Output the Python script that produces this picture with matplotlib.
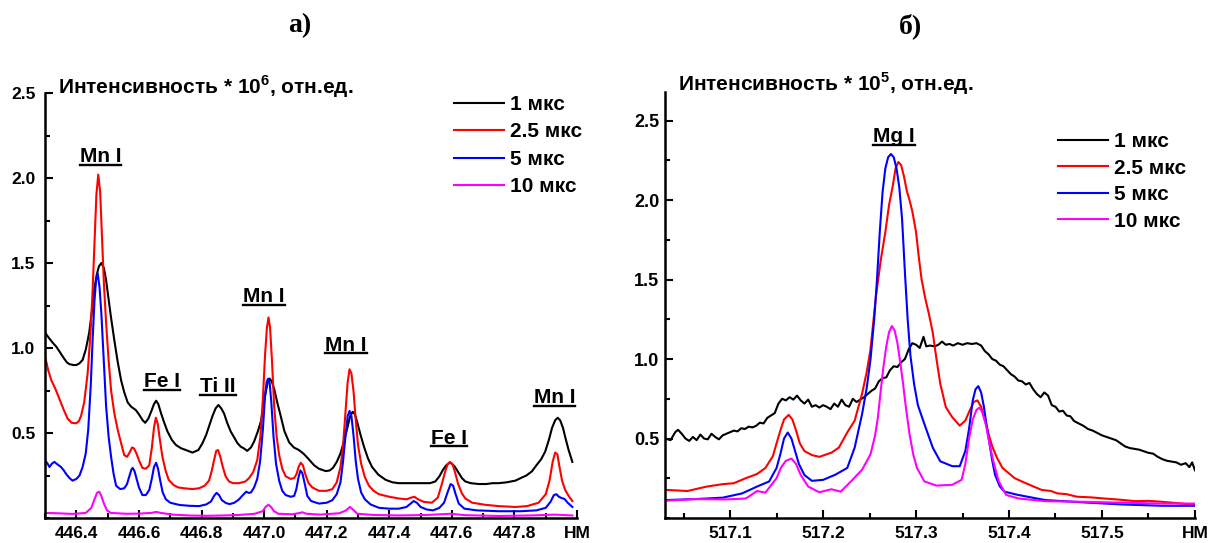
import numpy as np
import matplotlib
matplotlib.use("Agg")
import matplotlib.pyplot as plt
from matplotlib.lines import Line2D
from matplotlib.ticker import MultipleLocator

# =====================
# Fonts
# =====================

plt.rcParams["font.family"] = ["Liberation Sans", "DejaVu Sans"]
plt.rcParams["font.weight"] = "bold"
plt.rcParams["mathtext.fontset"] = "custom"
plt.rcParams["mathtext.rm"] = "Liberation Sans:bold"
plt.rcParams["mathtext.bf"] = "Liberation Sans:bold"

# =====================
# Data: panel a) 446.3 - 448.0 nm
# =====================

a_x_1 = [446.300, 446.312, 446.325, 446.335, 446.346, 446.360, 446.370, 446.378, 446.390, 446.400,
         446.410, 446.420, 446.430, 446.441, 446.450, 446.457, 446.465, 446.472, 446.480, 446.488,
         446.495, 446.502, 446.510, 446.521, 446.532, 446.543, 446.553, 446.564, 446.575, 446.590,
         446.600, 446.612, 446.620, 446.630, 446.640, 446.648, 446.655, 446.662, 446.670, 446.680,
         446.691, 446.705, 446.718, 446.735, 446.750, 446.771, 446.790, 446.803, 446.815, 446.825,
         446.835, 446.845, 446.854, 446.863, 446.872, 446.882, 446.893, 446.904, 446.915, 446.925,
         446.935, 446.946, 446.958, 446.968, 446.980, 446.990, 446.998, 447.005, 447.012, 447.018,
         447.025, 447.032, 447.042, 447.053, 447.065, 447.080, 447.095, 447.111, 447.125, 447.133,
         447.143, 447.160, 447.175, 447.197, 447.210, 447.220, 447.232, 447.244, 447.255, 447.266,
         447.275, 447.283, 447.290, 447.298, 447.308, 447.319, 447.332, 447.345, 447.365, 447.388,
         447.410, 447.430, 447.455, 447.483, 447.510, 447.530, 447.547, 447.560, 447.572, 447.582,
         447.592, 447.600, 447.610, 447.620, 447.632, 447.643, 447.660, 447.686, 447.710, 447.730,
         447.750, 447.775, 447.803, 447.820, 447.838, 447.856, 447.870, 447.885, 447.898, 447.910,
         447.920, 447.930, 447.938, 447.946, 447.955, 447.963, 447.973, 447.985]
a_y_1 = [1.09, 1.06, 1.03, 1.01, 0.98, 0.94, 0.915, 0.905, 0.90, 0.90,
         0.91, 0.93, 0.99, 1.09, 1.22, 1.34, 1.43, 1.48, 1.50, 1.47,
         1.40, 1.30, 1.19, 1.05, 0.92, 0.81, 0.74, 0.68, 0.655, 0.635,
         0.61, 0.575, 0.56, 0.585, 0.63, 0.67, 0.69, 0.67, 0.62, 0.565,
         0.51, 0.46, 0.43, 0.41, 0.40, 0.385, 0.40, 0.44, 0.49, 0.545,
         0.60, 0.645, 0.665, 0.645, 0.615, 0.56, 0.51, 0.475, 0.44, 0.42,
         0.41, 0.395, 0.415, 0.45, 0.51, 0.57, 0.66, 0.74, 0.80, 0.82,
         0.80, 0.76, 0.68, 0.60, 0.51, 0.445, 0.415, 0.40, 0.38, 0.365,
         0.345, 0.31, 0.29, 0.276, 0.28, 0.295, 0.33, 0.38, 0.45, 0.53,
         0.60, 0.625, 0.61, 0.56, 0.49, 0.42, 0.35, 0.30, 0.255, 0.225,
         0.21, 0.205, 0.205, 0.205, 0.205, 0.205, 0.215, 0.245, 0.285, 0.31,
         0.325, 0.32, 0.30, 0.27, 0.235, 0.215, 0.205, 0.20, 0.20, 0.205,
         0.205, 0.21, 0.22, 0.235, 0.25, 0.275, 0.31, 0.345, 0.39, 0.46,
         0.53, 0.575, 0.59, 0.575, 0.53, 0.47, 0.40, 0.33]

a_x_25 = [446.300, 446.310, 446.320, 446.333, 446.346, 446.360, 446.372, 446.385, 446.399, 446.408,
          446.415, 446.425, 446.436, 446.445, 446.452, 446.458, 446.464, 446.470, 446.476, 446.482,
          446.488, 446.495, 446.503, 446.511, 446.521, 446.532, 446.543, 446.553, 446.562, 446.570,
          446.578, 446.584, 446.592, 446.600, 446.611, 446.622, 446.633, 446.641, 446.648, 446.654,
          446.660, 446.667, 446.675, 446.685, 446.695, 446.710, 446.725, 446.745, 446.770, 446.792,
          446.810, 446.824, 446.833, 446.840, 446.847, 446.853, 446.860, 446.868, 446.877, 446.888,
          446.900, 446.920, 446.940, 446.952, 446.965, 446.978, 446.988, 446.996, 447.003, 447.009,
          447.014, 447.019, 447.025, 447.032, 447.040, 447.048, 447.058, 447.069, 447.085, 447.096,
          447.104, 447.110, 447.117, 447.124, 447.132, 447.142, 447.154, 447.175, 447.200, 447.218,
          447.232, 447.244, 447.252, 447.260, 447.267, 447.273, 447.279, 447.286, 447.293, 447.300,
          447.310, 447.322, 447.335, 447.350, 447.367, 447.400, 447.430, 447.455, 447.470, 447.480,
          447.492, 447.510, 447.536, 447.555, 447.568, 447.578, 447.586, 447.594, 447.602, 447.610,
          447.620, 447.632, 447.643, 447.665, 447.706, 447.750, 447.803, 447.840, 447.877, 447.900,
          447.912, 447.922, 447.930, 447.937, 447.944, 447.952, 447.962, 447.975, 447.985]
a_y_25 = [0.95, 0.87, 0.81, 0.76, 0.70, 0.635, 0.585, 0.56, 0.557, 0.57,
          0.60, 0.68, 0.85, 1.08, 1.34, 1.62, 1.90, 2.02, 1.92, 1.65,
          1.38, 1.15, 0.93, 0.75, 0.62, 0.52, 0.44, 0.37, 0.36, 0.385,
          0.415, 0.41, 0.38, 0.34, 0.295, 0.29, 0.31, 0.41, 0.53, 0.59,
          0.555, 0.46, 0.36, 0.28, 0.225, 0.195, 0.18, 0.175, 0.17, 0.175,
          0.19, 0.22, 0.28, 0.34, 0.395, 0.40, 0.36, 0.30, 0.245, 0.215,
          0.205, 0.205, 0.215, 0.235, 0.27, 0.34, 0.48, 0.70, 0.96, 1.12,
          1.18, 1.12, 0.93, 0.66, 0.48, 0.37, 0.29, 0.245, 0.23, 0.235,
          0.26, 0.30, 0.325, 0.31, 0.255, 0.205, 0.18, 0.16, 0.16, 0.17,
          0.21, 0.30, 0.42, 0.62, 0.80, 0.875, 0.85, 0.74, 0.57, 0.43,
          0.32, 0.24, 0.19, 0.16, 0.14, 0.125, 0.115, 0.11, 0.12, 0.125,
          0.11, 0.095, 0.09, 0.12, 0.20, 0.27, 0.315, 0.33, 0.315, 0.27,
          0.20, 0.145, 0.115, 0.09, 0.078, 0.07, 0.065, 0.07, 0.09, 0.14,
          0.22, 0.33, 0.385, 0.375, 0.30, 0.22, 0.165, 0.125, 0.10]

a_x_5 = [446.300, 446.308, 446.314, 446.322, 446.330, 446.340, 446.351, 446.360, 446.367, 446.378,
         446.388, 446.400, 446.410, 446.420, 446.430, 446.438, 446.446, 446.452, 446.458, 446.463,
         446.468, 446.474, 446.480, 446.487, 446.495, 446.503, 446.511, 446.519, 446.527, 446.540,
         446.553, 446.562, 446.570, 446.576, 446.580, 446.586, 446.592, 446.600, 446.611, 446.622,
         446.633, 446.641, 446.648, 446.655, 446.661, 446.668, 446.676, 446.686, 446.700, 446.729,
         446.760, 446.792, 446.815, 446.830, 446.840, 446.848, 446.856, 446.865, 446.878, 446.890,
         446.905, 446.920, 446.932, 446.943, 446.950, 446.958, 446.968, 446.978, 446.987, 446.996,
         447.003, 447.008, 447.013, 447.018, 447.023, 447.030, 447.038, 447.048, 447.058, 447.069,
         447.085, 447.096, 447.103, 447.110, 447.116, 447.122, 447.130, 447.138, 447.150, 447.175,
         447.200, 447.218, 447.232, 447.244, 447.252, 447.260, 447.267, 447.273, 447.279, 447.286,
         447.293, 447.300, 447.310, 447.322, 447.340, 447.367, 447.400, 447.430, 447.455, 447.468,
         447.478, 447.488, 447.500, 447.520, 447.540, 447.560, 447.575, 447.586, 447.596, 447.604,
         447.612, 447.622, 447.640, 447.680, 447.750, 447.820, 447.870, 447.900, 447.915, 447.926,
         447.934, 447.942, 447.950, 447.960, 447.970, 447.985]
a_y_5 = [0.34, 0.32, 0.30, 0.32, 0.33, 0.315, 0.30, 0.28, 0.26, 0.235,
         0.22, 0.23, 0.25, 0.30, 0.38, 0.52, 0.78, 1.05, 1.28, 1.40,
         1.44, 1.36, 1.20, 0.95, 0.66, 0.48, 0.36, 0.26, 0.19, 0.17,
         0.175, 0.20, 0.25, 0.285, 0.295, 0.275, 0.235, 0.18, 0.135, 0.135,
         0.165, 0.23, 0.30, 0.325, 0.29, 0.22, 0.15, 0.11, 0.09, 0.077,
         0.072, 0.07, 0.08, 0.097, 0.13, 0.148, 0.135, 0.105, 0.088, 0.082,
         0.09, 0.11, 0.135, 0.155, 0.148, 0.15, 0.18, 0.23, 0.33, 0.52,
         0.72, 0.80, 0.82, 0.79, 0.68, 0.48, 0.32, 0.22, 0.16, 0.135,
         0.125, 0.13, 0.17, 0.24, 0.28, 0.265, 0.20, 0.13, 0.10, 0.085,
         0.09, 0.105, 0.14, 0.21, 0.33, 0.48, 0.60, 0.63, 0.60, 0.48,
         0.33, 0.23, 0.15, 0.11, 0.08, 0.06, 0.055, 0.055, 0.065, 0.085,
         0.10, 0.09, 0.065, 0.05, 0.045, 0.06, 0.09, 0.15, 0.20, 0.19,
         0.14, 0.085, 0.055, 0.045, 0.04, 0.04, 0.045, 0.06, 0.095, 0.135,
         0.14, 0.125, 0.118, 0.112, 0.09, 0.065]

a_x_10 = [446.300, 446.340, 446.388, 446.430, 446.448, 446.458, 446.466, 446.473, 446.480, 446.488,
          446.498, 446.510, 446.560, 446.600, 446.640, 446.655, 446.670, 446.707, 446.760, 446.814,
          446.870, 446.920, 446.970, 446.995, 447.006, 447.014, 447.022, 447.032, 447.045, 447.090,
          447.115, 447.122, 447.135, 447.180, 447.240, 447.262, 447.274, 447.284, 447.298, 447.350,
          447.430, 447.520, 447.595, 447.640, 447.750, 447.850, 447.930, 447.985]
a_y_10 = [0.03, 0.028, 0.024, 0.03, 0.06, 0.11, 0.148, 0.155, 0.13, 0.085,
          0.045, 0.03, 0.025, 0.026, 0.03, 0.036, 0.03, 0.02, 0.015, 0.013,
          0.015, 0.018, 0.025, 0.04, 0.068, 0.078, 0.065, 0.04, 0.025, 0.022,
          0.03, 0.034, 0.025, 0.02, 0.028, 0.045, 0.065, 0.05, 0.025, 0.018,
          0.015, 0.018, 0.025, 0.017, 0.012, 0.015, 0.02, 0.015]

a_lines = ["Mn I", "Fe I", "Ti II", "Mn I", "Mn I", "Fe I", "Mn I"]
a_line_x = [446.477, 446.674, 446.853, 447.000, 447.261, 447.590, 447.928]
a_line_y = [2.094, 0.768, 0.740, 1.268, 0.985, 0.438, 0.674]

# =====================
# Data: panel б) 517.03 - 517.6 nm
# =====================

b_x_1 = [517.030, 517.036, 517.041, 517.044, 517.048, 517.052, 517.056, 517.060, 517.064, 517.068,
         517.072, 517.076, 517.080, 517.084, 517.088, 517.092, 517.096, 517.100, 517.104, 517.108,
         517.112, 517.116, 517.120, 517.124, 517.128, 517.132, 517.136, 517.140, 517.144, 517.148,
         517.152, 517.156, 517.160, 517.164, 517.168, 517.172, 517.176, 517.180, 517.184, 517.188,
         517.192, 517.196, 517.200, 517.204, 517.208, 517.212, 517.216, 517.220, 517.224, 517.228,
         517.232, 517.236, 517.240, 517.244, 517.248, 517.252, 517.256, 517.260, 517.264, 517.268,
         517.272, 517.276, 517.280, 517.284, 517.288, 517.292, 517.296, 517.300, 517.304, 517.308,
         517.311, 517.315, 517.320, 517.324, 517.328, 517.332, 517.336, 517.340, 517.345, 517.350,
         517.355, 517.360, 517.365, 517.370, 517.374, 517.378, 517.382, 517.386, 517.390, 517.394,
         517.398, 517.402, 517.406, 517.410, 517.414, 517.418, 517.422, 517.426, 517.430, 517.434,
         517.438, 517.442, 517.446, 517.450, 517.454, 517.458, 517.462, 517.466, 517.470, 517.475,
         517.480, 517.485, 517.490, 517.495, 517.500, 517.505, 517.510, 517.515, 517.520, 517.525,
         517.530, 517.535, 517.540, 517.545, 517.550, 517.555, 517.560, 517.565, 517.570, 517.575,
         517.580, 517.585, 517.590, 517.594, 517.597, 517.600]
b_y_1 = [0.50, 0.49, 0.54, 0.555, 0.53, 0.50, 0.485, 0.51, 0.49, 0.525,
         0.50, 0.495, 0.53, 0.51, 0.495, 0.52, 0.53, 0.54, 0.55, 0.545,
         0.565, 0.56, 0.575, 0.57, 0.58, 0.60, 0.595, 0.63, 0.645, 0.66,
         0.72, 0.75, 0.74, 0.76, 0.745, 0.77, 0.74, 0.72, 0.745, 0.70,
         0.71, 0.695, 0.71, 0.70, 0.685, 0.72, 0.70, 0.745, 0.71, 0.70,
         0.75, 0.73, 0.745, 0.76, 0.78, 0.80, 0.815, 0.86, 0.88, 0.885,
         0.93, 0.955, 0.95, 0.98, 1.00, 1.06, 1.10, 1.09, 1.07, 1.14,
         1.08, 1.085, 1.08, 1.09, 1.11, 1.09, 1.095, 1.085, 1.10, 1.09,
         1.10, 1.095, 1.10, 1.085, 1.05, 1.03, 1.00, 0.99, 0.965, 0.955,
         0.93, 0.905, 0.89, 0.865, 0.86, 0.84, 0.85, 0.81, 0.78, 0.76,
         0.79, 0.77, 0.71, 0.70, 0.67, 0.675, 0.645, 0.64, 0.61, 0.595,
         0.58, 0.56, 0.55, 0.535, 0.52, 0.51, 0.50, 0.49, 0.47, 0.45,
         0.44, 0.435, 0.43, 0.42, 0.41, 0.405, 0.385, 0.37, 0.36, 0.355,
         0.35, 0.335, 0.345, 0.32, 0.35, 0.30]

b_x_25 = [517.031, 517.054, 517.075, 517.092, 517.104, 517.117, 517.129, 517.138, 517.146, 517.150,
          517.154, 517.158, 517.163, 517.167, 517.171, 517.175, 517.180, 517.188, 517.196, 517.209,
          517.217, 517.226, 517.234, 517.242, 517.247, 517.251, 517.257, 517.262, 517.267, 517.271,
          517.275, 517.278, 517.281, 517.284, 517.287, 517.290, 517.293, 517.296, 517.300, 517.303,
          517.306, 517.310, 517.314, 517.318, 517.322, 517.326, 517.332, 517.339, 517.347, 517.353,
          517.358, 517.362, 517.366, 517.370, 517.374, 517.378, 517.382, 517.387, 517.393, 517.406,
          517.418, 517.435, 517.445, 517.452, 517.462, 517.473, 517.488, 517.502, 517.520, 517.536,
          517.550, 517.565, 517.586, 517.600]
b_y_25 = [0.177, 0.17, 0.198, 0.213, 0.219, 0.251, 0.277, 0.315, 0.389, 0.47,
          0.549, 0.62, 0.649, 0.62, 0.55, 0.47, 0.421, 0.396, 0.385, 0.411,
          0.443, 0.538, 0.613, 0.783, 0.92, 1.06, 1.40, 1.62, 1.80, 1.97,
          2.09, 2.20, 2.24, 2.22, 2.15, 2.06, 2.00, 1.93, 1.80, 1.64,
          1.50, 1.38, 1.28, 1.166, 1.00, 0.847, 0.698, 0.634, 0.581, 0.613,
          0.68, 0.73, 0.74, 0.70, 0.62, 0.53, 0.45, 0.38, 0.315, 0.251,
          0.219, 0.177, 0.17, 0.155, 0.15, 0.134, 0.13, 0.123, 0.115, 0.106,
          0.108, 0.102, 0.091, 0.081]

b_x_5 = [517.031, 517.062, 517.092, 517.113, 517.129, 517.142, 517.150, 517.154, 517.158, 517.162,
         517.166, 517.170, 517.174, 517.180, 517.188, 517.200, 517.213, 517.226, 517.234, 517.242,
         517.247, 517.251, 517.255, 517.258, 517.261, 517.264, 517.267, 517.270, 517.273, 517.276,
         517.279, 517.282, 517.285, 517.288, 517.291, 517.294, 517.298, 517.302, 517.309, 517.318,
         517.326, 517.339, 517.347, 517.353, 517.357, 517.361, 517.364, 517.367, 517.370, 517.373,
         517.376, 517.379, 517.382, 517.385, 517.390, 517.395, 517.410, 517.439, 517.481, 517.523,
         517.565, 517.600]
b_y_5 = [0.113, 0.119, 0.128, 0.155, 0.198, 0.23, 0.315, 0.40, 0.50, 0.538,
         0.50, 0.42, 0.34, 0.27, 0.234, 0.24, 0.272, 0.315, 0.443, 0.655,
         0.82, 0.996, 1.25, 1.50, 1.80, 2.05, 2.20, 2.27, 2.29, 2.27,
         2.20, 2.08, 1.88, 1.55, 1.25, 1.02, 0.84, 0.71, 0.591, 0.443,
         0.357, 0.326, 0.326, 0.421, 0.56, 0.74, 0.81, 0.83, 0.79, 0.70,
         0.58, 0.47, 0.36, 0.272, 0.20, 0.166, 0.145, 0.113, 0.098, 0.085,
         0.077, 0.077]

b_x_10 = [517.031, 517.062, 517.096, 517.117, 517.129, 517.138, 517.150, 517.155, 517.160, 517.166,
          517.171, 517.176, 517.184, 517.196, 517.209, 517.219, 517.230, 517.242, 517.251, 517.256,
          517.259, 517.262, 517.265, 517.268, 517.271, 517.274, 517.277, 517.280, 517.283, 517.286,
          517.289, 517.293, 517.297, 517.301, 517.309, 517.322, 517.339, 517.349, 517.353, 517.357,
          517.361, 517.365, 517.368, 517.371, 517.375, 517.379, 517.383, 517.389, 517.397, 517.410,
          517.439, 517.481, 517.523, 517.565, 517.600]
b_y_10 = [0.109, 0.119, 0.117, 0.123, 0.17, 0.16, 0.251, 0.32, 0.36, 0.374,
          0.34, 0.27, 0.198, 0.162, 0.181, 0.166, 0.23, 0.304, 0.40, 0.52,
          0.634, 0.80, 0.953, 1.08, 1.17, 1.208, 1.18, 1.10, 0.98, 0.847,
          0.70, 0.528, 0.40, 0.315, 0.23, 0.204, 0.209, 0.24, 0.34, 0.50,
          0.62, 0.68, 0.694, 0.67, 0.59, 0.47, 0.36, 0.23, 0.145, 0.123,
          0.106, 0.102, 0.096, 0.091, 0.091]

b_lines = ["Mg I"]
b_line_x = [517.276]
b_line_y = [2.365]

labels = ["1 мкс", "2.5 мкс", "5 мкс", "10 мкс"]
colors = ["#000000", "#ff0000", "#0000ff", "#ff00ff"]

# =====================
# Plot
# =====================

fig = plt.figure(figsize=(12.08, 5.43), dpi=100)

ax_a = fig.add_axes([0.0373, 0.046, 0.4404, 0.7827])
ax_b = fig.add_axes([0.5505, 0.046, 0.4387, 0.7845])

series_a = [(a_x_1, a_y_1), (a_x_25, a_y_25), (a_x_5, a_y_5), (a_x_10, a_y_10)]
series_b = [(b_x_1, b_y_1), (b_x_25, b_y_25), (b_x_5, b_y_5), (b_x_10, b_y_10)]

for (x, y), c, lab in zip(series_a, colors, labels):
    ax_a.plot(x, y, color=c, lw=1.5, label=lab)

for (x, y), c, lab in zip(series_b, colors, labels):
    ax_b.plot(x, y, color=c, lw=1.5, label=lab)

# axes styling

ax_a.set_xlim(446.3, 448.0)
ax_a.set_ylim(0, 2.5)
ax_a.set_xticks(np.arange(446.4, 448.01, 0.2))
ax_a.set_xticklabels(["446.4", "446.6", "446.8", "447.0", "447.2",
                      "447.4", "447.6", "447.8", "НМ"])
ax_a.xaxis.set_minor_locator(MultipleLocator(0.1))
ax_a.set_yticks([0.5, 1.0, 1.5, 2.0, 2.5])
ax_a.yaxis.set_minor_locator(MultipleLocator(0.25))

ax_b.set_xlim(517.03, 517.6)
ax_b.set_ylim(0, 2.68)
ax_b.set_xticks([517.1, 517.2, 517.3, 517.4, 517.5, 517.6])
ax_b.set_xticklabels(["517.1", "517.2", "517.3", "517.4", "517.5", "НМ"])
ax_b.xaxis.set_minor_locator(MultipleLocator(0.05))
ax_b.set_yticks([0.5, 1.0, 1.5, 2.0, 2.5])
ax_b.yaxis.set_minor_locator(MultipleLocator(0.25))

for ax in (ax_a, ax_b):
    for side in ("top", "right"):
        ax.spines[side].set_visible(False)
    for side in ("left", "bottom"):
        ax.spines[side].set_linewidth(1.8)
    ax.tick_params(which="both", direction="in", width=1.5, labelsize=12.5)
    ax.tick_params(which="major", length=6)
    ax.tick_params(which="minor", length=3.5)
    ax.tick_params(axis="x", pad=5.5)
    ax.set_facecolor("none")

ax_a.tick_params(axis="y", pad=7)
ax_b.tick_params(axis="y", pad=4, labelsize=13)

# y labels at top

ax_a.text(0.024, 1.014, "Интенсивность * 10$^6$, отн.ед.", transform=ax_a.transAxes,
          fontsize=15, fontweight="bold", ha="left", va="center", clip_on=False)
ax_b.text(0.024, 1.019, "Интенсивность * 10$^5$, отн.ед.", transform=ax_b.transAxes,
          fontsize=15, fontweight="bold", ha="left", va="center", clip_on=False)

# line labels

line_texts = []
for name, x, y in zip(a_lines, a_line_x, a_line_y):
    line_texts.append(ax_a.text(x, y, name, fontsize=15, fontweight="bold",
                                ha="center", va="baseline"))
for name, x, y in zip(b_lines, b_line_x, b_line_y):
    line_texts.append(ax_b.text(x, y, name, fontsize=15, fontweight="bold",
                                ha="center", va="baseline"))

# legends

ax_a.legend(loc="upper left", bbox_to_anchor=(0.769, 0.995), frameon=False,
            fontsize=15, handlelength=2.4, handletextpad=0.3, labelspacing=0.4,
            borderpad=0, borderaxespad=0)
ax_b.legend(loc="upper left", bbox_to_anchor=(0.7415, 0.906), frameon=False,
            fontsize=15, handlelength=2.4, handletextpad=0.3, labelspacing=0.36,
            borderpad=0, borderaxespad=0)

# panel titles

fig.text(0.248, 0.952, "а)", fontsize=20, fontweight="bold", family="Liberation Serif",
         ha="center", va="center")
fig.text(0.754, 0.952, "б)", fontsize=20, fontweight="bold", family="Liberation Serif",
         ha="center", va="center")

# underline the line labels

fig.canvas.draw()
inv = fig.transFigure.inverted()
for t in line_texts:
    bb = t.get_window_extent()
    base = t.axes.transData.transform(t.get_position())[1] - 2.5
    p0 = inv.transform((bb.x0, base))
    p1 = inv.transform((bb.x1, base))
    fig.add_artist(Line2D([p0[0], p1[0]], [p0[1], p1[1]], color="black", lw=1.7,
                          transform=fig.transFigure))

plt.savefig("out.png", dpi=100)
